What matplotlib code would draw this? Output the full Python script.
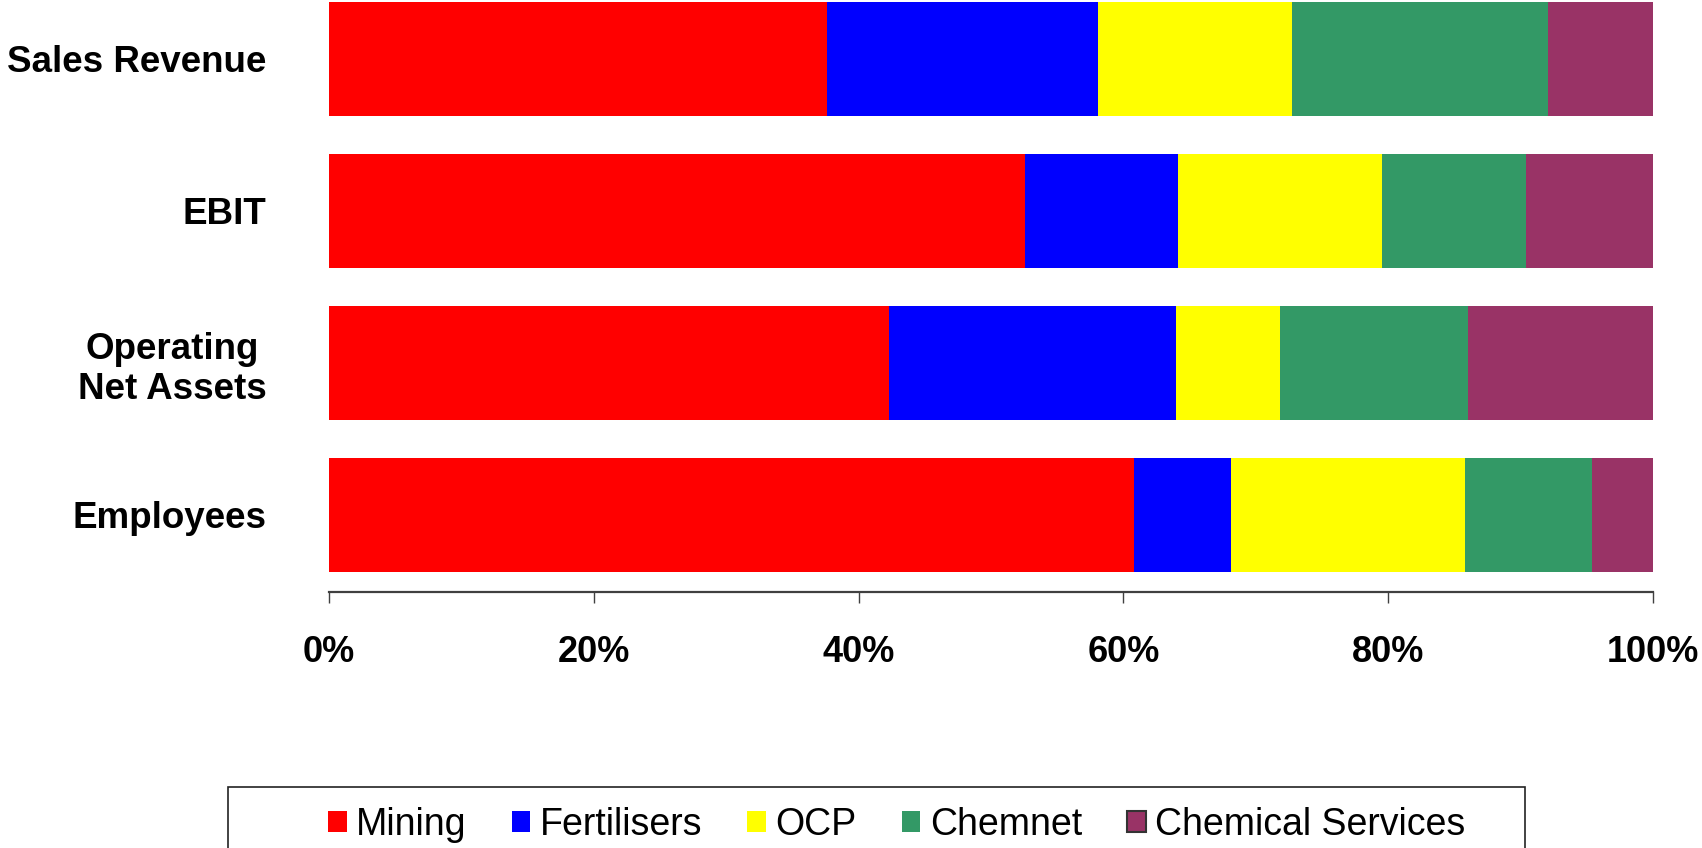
import matplotlib
matplotlib.use("Agg")
import matplotlib.pyplot as plt
import numpy as np
from matplotlib.patches import Rectangle

# Share of each business segment per measure (percent)
measures = ["Sales Revenue", "EBIT", "Operating\nNet Assets", "Employees"]
segments = ["Mining", "Fertilisers", "OCP", "Chemnet", "Chemical Services"]
mining = [37.6, 52.6, 42.3, 60.8]
fertilisers = [20.5, 11.5, 21.7, 7.3]
ocp = [14.6, 15.4, 7.8, 17.7]
chemnet = [19.4, 10.9, 14.2, 9.6]
chemical_services = [7.9, 9.6, 14.0, 4.6]
xticks = [0, 20, 40, 60, 80, 100]
xtick_labels = ["0%", "20%", "40%", "60%", "80%", "100%"]

colors = ["#FF0000", "#0000FF", "#FFFF00", "#339966", "#993366"]
series = [mining, fertilisers, ocp, chemnet, chemical_services]

plt.rcParams["font.family"] = ["Liberation Sans", "DejaVu Sans"]

fig = plt.figure(figsize=(17.02, 8.48), dpi=100)
W, H = 1702, 848
ax = fig.add_axes([329 / W, 1 - 592 / H, (1653 - 329) / W, 592 / H])

y = np.arange(len(measures))
left = np.zeros(len(measures))
handles = []
for name, vals, col in zip(segments, series, colors):
    vals = np.array(vals, dtype=float)
    b = ax.barh(y, vals, left=left, height=0.75, color=col, label=name,
                edgecolor="none", linewidth=0)
    handles.append(b)
    left += vals

ax.set_xlim(0, 100)
ax.set_ylim(3.508, -0.386)

ax.set_xticks(xticks)
ax.set_xticklabels(xtick_labels, fontsize=26, fontweight="bold")
ax.tick_params(axis="x", direction="out", length=8, width=1.0,
               color="#404040", pad=23)
ax.set_yticks(y)
ax.set_yticklabels(measures, fontsize=26.5, fontweight="bold",
                   multialignment="center")
ax.tick_params(axis="y", length=0, pad=45)

for s in ["top", "right", "left"]:
    ax.spines[s].set_visible(False)
ax.spines["bottom"].set_color("#404040")
ax.spines["bottom"].set_linewidth(1.6)

# Legend frame and entries along the bottom
frame = Rectangle((228 / W, -0.05), (1525 - 228) / W, (1 - 787 / H) + 0.05,
                  transform=fig.transFigure, facecolor="white",
                  edgecolor="#222222", linewidth=1.2, zorder=0)
fig.patches.append(frame)

leg = fig.legend(handles=handles, labels=segments, loc="center left",
                 bbox_to_anchor=(328 / W, 1 - 825 / H), ncol=5,
                 frameon=False, fontsize=27, handlelength=0.5,
                 handleheight=0.5, handletextpad=0.25, columnspacing=1.2,
                 borderpad=0.0, borderaxespad=0.0)
lh = leg.legend_handles[4]
lh.set_edgecolor("#333333")
lh.set_linewidth(1.5)

fig.savefig("out.png", dpi=100, facecolor="white")
